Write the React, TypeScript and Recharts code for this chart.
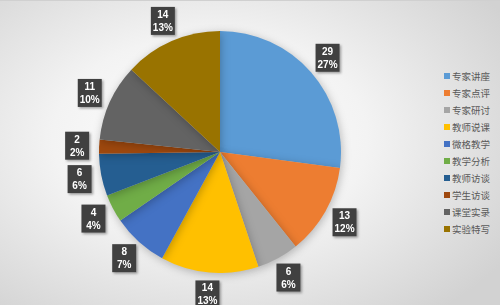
import React from 'react';
import { PieChart, Pie, Cell, Legend } from 'recharts';

const categories = ['专家讲座', '专家点评', '专家研讨', '教师说课', '微格教学', '教学分析', '教师访谈', '学生访谈', '课堂实录', '实验特写'];
const counts = [29, 13, 6, 14, 8, 4, 6, 2, 11, 14];
const colors = ['#5B9BD5', '#ED7D31', '#A5A5A5', '#FFC000', '#4472C4', '#70AD47', '#255E91', '#9E480E', '#636363', '#997300'];

const total = counts.reduce((a, b) => a + b, 0);
const data = categories.map((name, i) => ({ name, value: counts[i] }));

const RAD = Math.PI / 180;

// dark callout box with count and share, placed just outside each slice
const renderLabel = (props: any) => {
  const { cx, cy, midAngle, outerRadius, value } = props;
  const r = outerRadius + 22;
  const x = cx + r * Math.cos(-midAngle * RAD);
  const y = cy + r * Math.sin(-midAngle * RAD);
  const pct = Math.round((value / total) * 100) + '%';
  return (
    <g filter="url(#lblShadow)">
      <rect x={x - 12} y={y - 14} width={24} height={28} fill="#404040" />
      <text x={x} y={y - 3} textAnchor="middle" fill="#fff" fontSize={10} fontWeight="bold" fontFamily="'Liberation Sans', Arial, sans-serif">
        {value}
      </text>
      <text x={x} y={y + 10} textAnchor="middle" fill="#fff" fontSize={10} fontWeight="bold" fontFamily="'Liberation Sans', Arial, sans-serif">
        {pct}
      </text>
    </g>
  );
};

const renderLegend = () => (
  <div style={{ fontFamily: "'Noto Sans CJK SC', sans-serif", fontSize: 9.5, color: '#595959' }}>
    {categories.map((c, i) => (
      <div key={c} style={{ display: 'flex', alignItems: 'center', height: 17 }}>
        <span style={{ width: 6, height: 6, background: colors[i], marginRight: 2 }} />
        <span>{c}</span>
      </div>
    ))}
  </div>
);

export default function App() {
  return (
    <div
      style={{
        position: 'absolute',
        left: 0,
        top: 0,
        width: 500,
        height: 305,
        borderTop: '1px solid #d0d0d0',
        boxSizing: 'border-box',
        background: 'radial-gradient(ellipse 70% 75% at 42% 45%, #ffffff 0%, #f3f3f3 45%, #d2d2d2 100%)',
      }}
    >
      <style>{`.recharts-pie-sector path { filter: drop-shadow(1px 2px 4px rgba(0,0,0,0.25)); }`}</style>
      <PieChart width={500} height={304} margin={{ top: 0, right: 0, bottom: 0, left: 0 }}>
        <defs>
          <filter id="lblShadow" x="-30%" y="-30%" width="160%" height="160%">
            <feDropShadow dx="1.5" dy="1.5" stdDeviation="1.2" floodColor="#000" floodOpacity="0.35" />
          </filter>
        </defs>
        <Pie
          data={data}
          dataKey="value"
          nameKey="name"
          cx={220}
          cy={151}
          outerRadius={121}
          startAngle={90}
          endAngle={-270}
          stroke="none"
          label={renderLabel}
          labelLine={false}
          isAnimationActive={false}
        >
          {data.map((d, i) => (
            <Cell key={d.name} fill={colors[i]} />
          ))}
        </Pie>
        <Legend
          layout="vertical"
          verticalAlign="top"
          align="right"
          content={renderLegend}
          wrapperStyle={{ left: 444, top: 66, width: 60 }}
        />
      </PieChart>
    </div>
  );
}
